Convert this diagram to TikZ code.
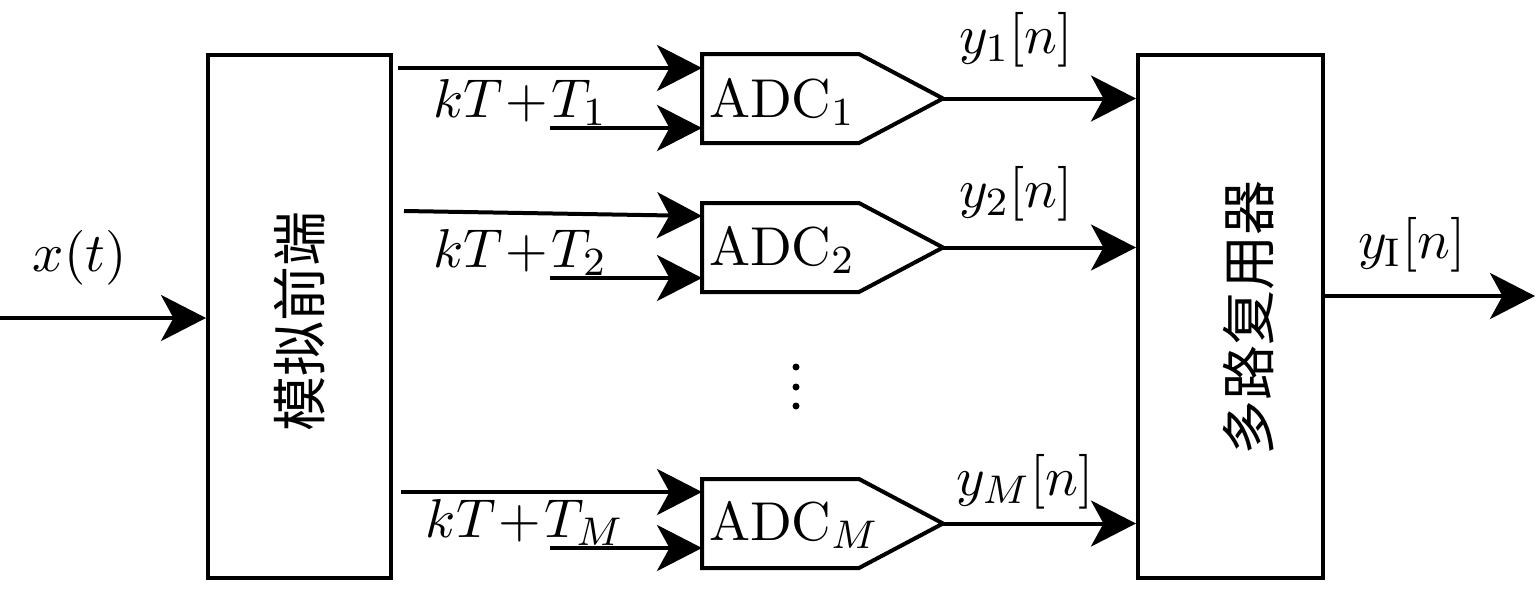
\documentclass[tikz,border=0pt]{standalone}
\usepackage{fontspec}
\newfontfamily\cjk{Noto Sans CJK SC}
\usetikzlibrary{arrows.meta,calc}
\begin{document}
\begin{tikzpicture}[x=0.2pt,y=-0.2pt,
  blk/.style={draw, line width=0.8pt, inner sep=0pt},
  ghost/.style={inner sep=0pt, minimum width=31pt, minimum height=17.4pt},
  adcline/.style={line width=0.8pt},
  arr/.style={line width=0.8pt, -{Stealth[length=9pt,width=9.2pt,inset=2.5pt]}},
  lbl/.style={font=\fontsize{10.95}{13}\selectfont, inner sep=0pt},
  zh/.style={font=\cjk\fontsize{11}{13}\selectfont, rotate=90, inner sep=0pt},
  dot/.style={circle, fill, inner sep=0pt, minimum size=1.4pt}]
\useasboundingbox (0,0) rectangle (1536,588);
% main blocks
\node[blk, minimum width=36.6pt, minimum height=104.6pt] (FE) at (299.5,316.5) {};
\node[zh] (FEtext) at (300,321) {模拟前端};
\node[blk, minimum width=37pt, minimum height=104.6pt] (MX) at (1230.5,316.5) {};
\node[zh] (MXtext) at (1249,318) {多路复用器};
% ADC blocks
\node[ghost] (A1) at (780.5,98.5) {};
\node[ghost] (A2) at (780.5,247.5) {};
\node[ghost] (AM) at (780.5,523.5) {};
\foreach \a in {A1,A2,AM}{
  \draw[adcline] (\a.north west) -- (\a.north east) -- ($(\a.east)+(84,0)$) coordinate (\a tip)
     -- (\a.south east) -- (\a.south west) -- cycle;
}
\node[lbl, anchor=base west] (A1t) at (708,117) {$\mathrm{ADC}_1$};
\node[lbl, anchor=base west] (A2t) at (708,265) {$\mathrm{ADC}_2$};
\node[lbl, anchor=base west] (AMt) at (708,540) {$\mathrm{ADC}_M$};
% input
\coordinate (xin) at (0,318);
\draw[arr] (xin) -- (xin -| FE.west);
\node[lbl, anchor=base west] (xlab) at (32,271) {$x(t)$};
% ADC inputs
\coordinate (s1a) at (398,68);  \coordinate (s1b) at (550,128);
\coordinate (s2a) at (404,211); \coordinate (s2b) at (550,278);
\coordinate (sMa) at (401,492); \coordinate (sMb) at (550,548);
\draw[arr] (s1a) -- (s1a -| A1.west);
\draw[arr] (s1b) -- (s1b -| A1.west);
\draw[arr] (s2a) -- ($(s2a -| A2.west)+(0,5)$);
\draw[arr] (s2b) -- (s2b -| A2.west);
\draw[arr] (sMa) -- (sMa -| AM.west);
\draw[arr] (sMb) -- (sMb -| AM.west);
\node[lbl, anchor=base west] (k1) at (432,117) {$kT\mkern1mu{+}\mkern1mu T_1$};
\node[lbl, anchor=base west] (k2) at (432,267) {$kT\mkern1mu{+}\mkern1mu T_2$};
\node[lbl, anchor=base west] (kM) at (425,537) {$kT\mkern1mu{+}\mkern1mu T_M$};
% outputs
\draw[arr] (A1tip) -- (A1tip -| MX.west);
\draw[arr] (A2tip) -- (A2tip -| MX.west);
\draw[arr] (AMtip) -- (AMtip -| MX.west);
\node[lbl, anchor=base west] (y1) at (958,53) {$y_1[n]$};
\node[lbl, anchor=base west] (y2) at (958,207) {$y_2[n]$};
\node[lbl, anchor=base west] (yM) at (955,495) {$y_M[n]$};
% vertical ellipsis
\node[dot] (d1) at (796,367) {};
\node[dot] (d2) at (796,387) {};
\node[dot] (d3) at (796,406) {};
% final output
\coordinate (yout) at (1535,296);
\draw[arr] (yout -| MX.east) -- (yout);
\node[lbl, anchor=base west] (yI) at (1357,258) {$y_{\mathrm{I}}[n]$};
\end{tikzpicture}
\end{document}
